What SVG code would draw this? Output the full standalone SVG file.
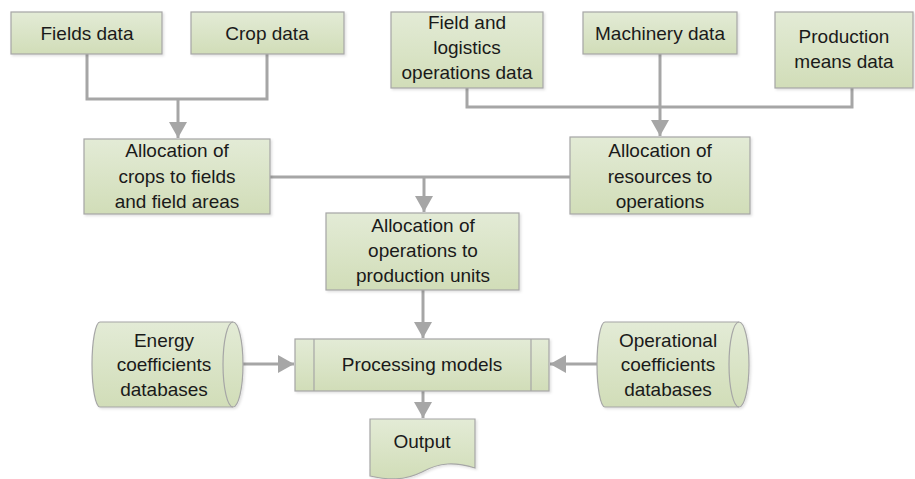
<svg xmlns="http://www.w3.org/2000/svg" width="915" height="479" viewBox="0 0 915 479">
<style>
.b{fill:url(#g);stroke:#a6a6a6;stroke-width:1.2;filter:url(#sh)}
.t{font-family:"Liberation Sans",Arial,sans-serif;font-size:19px;fill:#1a1a1a;text-anchor:middle}
.c{fill:none;stroke:#a6a6a6;stroke-width:3}
.ln{fill:none;stroke:#a6a6a6;stroke-width:1.2}
</style>
<defs>
<linearGradient id="g" x1="0" y1="0" x2="0" y2="1">
<stop offset="0" stop-color="#e3ebd6"/>
<stop offset="1" stop-color="#d1ddb8"/>
</linearGradient>
<filter id="sh" x="-10%" y="-10%" width="120%" height="130%">
<feDropShadow dx="1.5" dy="1.5" stdDeviation="1" flood-color="#000" flood-opacity="0.12"/>
</filter>
<marker id="ah" viewBox="0 0 16 18" refX="16" refY="9" markerWidth="16" markerHeight="18" orient="auto" markerUnits="userSpaceOnUse">
<path d="M0,0 L16,9 L0,18 Z" fill="#a6a6a6"/>
</marker>
</defs>
<g id="connectors">
<path class="c" d="M87,54 V99 H267 V54"/>
<path class="c" d="M178,99 V138" marker-end="url(#ah)"/>
<path class="c" d="M467,88 V107 H852 V88"/>
<path class="c" d="M660,54 V136" marker-end="url(#ah)"/>
<path class="c" d="M270,177 H570"/>
<path class="c" d="M424,177 V212" marker-end="url(#ah)"/>
<path class="c" d="M423,290 V338" marker-end="url(#ah)"/>
<path class="c" d="M232,364 H294" marker-end="url(#ah)"/>
<path class="c" d="M597,364 H550" marker-end="url(#ah)"/>
<path class="c" d="M423,391 V418" marker-end="url(#ah)"/>
</g>
<g id="fields">
<rect class="b" x="11" y="12" width="151" height="42"/>
<text class="t" x="87" y="40">Fields data</text>
</g>
<g id="crop">
<rect class="b" x="191" y="12" width="153" height="42"/>
<text class="t" x="267" y="40">Crop data</text>
</g>
<g id="fieldlog">
<rect class="b" x="391" y="12" width="152" height="76"/>
<text class="t" x="467" y="29">Field and</text>
<text class="t" x="467" y="54">logistics</text>
<text class="t" x="467" y="79">operations data</text>
</g>
<g id="machinery">
<rect class="b" x="583" y="12" width="154" height="42"/>
<text class="t" x="660" y="40">Machinery data</text>
</g>
<g id="production">
<rect class="b" x="775" y="12" width="138" height="76"/>
<text class="t" x="844" y="43">Production</text>
<text class="t" x="844" y="68">means data</text>
</g>
<g id="allocCrops">
<rect class="b" x="84" y="139" width="186" height="75"/>
<text class="t" x="177" y="157">Allocation of</text>
<text class="t" x="177" y="183">crops to fields</text>
<text class="t" x="177" y="208">and field areas</text>
</g>
<g id="allocRes">
<rect class="b" x="570" y="137" width="180" height="77"/>
<text class="t" x="660" y="157">Allocation of</text>
<text class="t" x="660" y="183">resources to</text>
<text class="t" x="660" y="208">operations</text>
</g>
<g id="allocOps">
<rect class="b" x="326" y="213" width="193" height="77"/>
<text class="t" x="423" y="232">Allocation of</text>
<text class="t" x="423" y="257">operations to</text>
<text class="t" x="423" y="282">production units</text>
</g>
<g id="processing">
<rect class="b" x="295" y="339" width="254" height="52"/>
<line class="ln" x1="314" y1="339" x2="314" y2="391"/>
<line class="ln" x1="531" y1="339" x2="531" y2="391"/>
<text class="t" x="422" y="371">Processing models</text>
</g>
<g id="energy">
<path class="b" d="M100,322 H233 A10,42.5 0 0 1 233,407 H100 A8,42.5 0 0 1 100,322 Z"/>
<path class="ln" d="M233,322 A10,42.5 0 0 0 233,407"/>
<text class="t" x="164" y="347">Energy</text>
<text class="t" x="164" y="371">coefficients</text>
<text class="t" x="164" y="396">databases</text>
</g>
<g id="operational">
<path class="b" d="M605,322 H739 A10,42.5 0 0 1 739,407 H605 A8,42.5 0 0 1 605,322 Z"/>
<path class="ln" d="M739,322 A10,42.5 0 0 0 739,407"/>
<text class="t" x="668" y="347">Operational</text>
<text class="t" x="668" y="371">coefficients</text>
<text class="t" x="668" y="396">databases</text>
</g>
<g id="output">
<path class="b" d="M370,419 H475 V468 C455,462 440,462 422,472 C404,481 388,480 370,476 Z"/>
<text class="t" x="422" y="448">Output</text>
</g>
</svg>
